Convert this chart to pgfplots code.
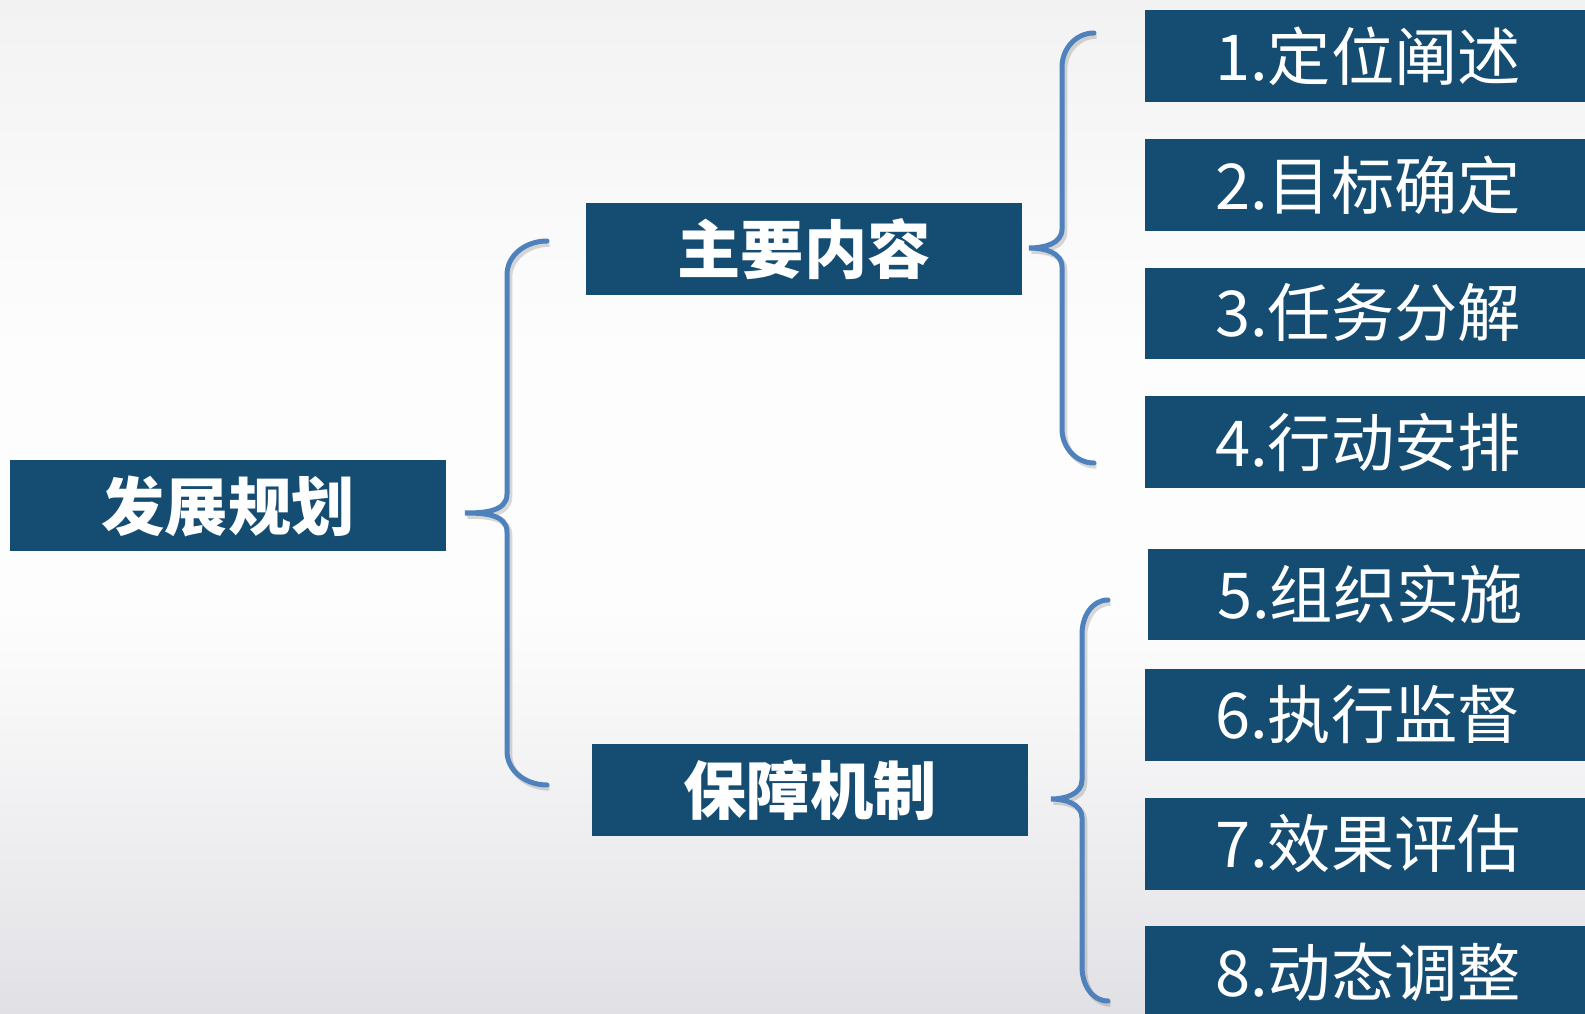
\documentclass[border=0pt]{standalone}
\usepackage{pgfplots}
\pgfplotsset{compat=1.18}
\usepackage{fontspec}
\setmainfont{Noto Sans CJK SC}

\definecolor{boxc}{HTML}{154D72}
\definecolor{brc}{HTML}{4F81BD}
\definecolor{bg0}{HTML}{E1E1E5}
\definecolor{bg1}{HTML}{EDEDF0}
\definecolor{bg2}{HTML}{F7F7F7}
\definecolor{bg3}{HTML}{FDFDFD}
\definecolor{bg4}{HTML}{F9F9F9}
\definecolor{bg5}{HTML}{F2F2F2}
% the path is fitted to the 25bp..75bp part of the shading
\pgfdeclareverticalshading{pagebg}{100bp}{color(0bp)=(bg0); color(25bp)=(bg0); color(33bp)=(bg1);
  color(40bp)=(bg2); color(45bp)=(bg3); color(57.5bp)=(bg3); color(65bp)=(bg4);
  color(75bp)=(bg5); color(100bp)=(bg5)}

% brace: {end x}{vertical x}{top y}{bottom y}{tip x}{tip y}
\newcommand{\bracepath}[6]{%
  (axis cs:#1,#3) to[out=180,in=90] (axis cs:#2,#3+34)
  -- (axis cs:#2,#6-19) to[out=-90,in=0] (axis cs:#5,#6)
  to[out=0,in=90] (axis cs:#2,#6+19)
  -- (axis cs:#2,#4-34) to[out=-90,in=180] (axis cs:#1,#4)}
\newcommand{\curlybrace}[6]{%
  \draw[black!60, opacity=0.25, line width=0.55mm, shift={(0.25mm,-0.3mm)}] \bracepath{#1}{#2}{#3}{#4}{#5}{#6};
  \draw[brc, line width=0.5mm, line cap=round] \bracepath{#1}{#2}{#3}{#4}{#5}{#6};}

\tikzset{lbl/.style={text=white, font=\fontsize{18}{20}\selectfont},
         lblb/.style={text=white, font=\fontsize{18}{20}\selectfont\bfseries}}

\begin{document}
\begin{tikzpicture}
\begin{axis}[
    scale only axis,
    width=15.85cm, height=10.14cm,
    xmin=0, xmax=1585, ymin=0, ymax=1014,
    y dir=reverse,
    axis lines=none,
    clip=true,
  ]
  % background
  \shade[shading=pagebg] (axis cs:0,0) rectangle (axis cs:1585,1014);

  % boxes (x0,y0) -> (x1,y1), pixel units, y downwards
  \addplot[fill=boxc, draw=none, mark=none] coordinates {(10,460)(446,460)(446,551)(10,551)};
  \addplot[fill=boxc, draw=none, mark=none] coordinates {(586,203)(1022,203)(1022,295)(586,295)};
  \addplot[fill=boxc, draw=none, mark=none] coordinates {(592,744)(1028,744)(1028,836)(592,836)};
  \addplot[fill=boxc, draw=none, mark=none] coordinates {(1145,10)(1585,10)(1585,102)(1145,102)};
  \addplot[fill=boxc, draw=none, mark=none] coordinates {(1145,139)(1585,139)(1585,231)(1145,231)};
  \addplot[fill=boxc, draw=none, mark=none] coordinates {(1145,268)(1585,268)(1585,359)(1145,359)};
  \addplot[fill=boxc, draw=none, mark=none] coordinates {(1145,396)(1585,396)(1585,488)(1145,488)};
  \addplot[fill=boxc, draw=none, mark=none] coordinates {(1148,549)(1585,549)(1585,640)(1148,640)};
  \addplot[fill=boxc, draw=none, mark=none] coordinates {(1145,669)(1585,669)(1585,761)(1145,761)};
  \addplot[fill=boxc, draw=none, mark=none] coordinates {(1145,798)(1585,798)(1585,890)(1145,890)};
  \addplot[fill=boxc, draw=none, mark=none] coordinates {(1145,926)(1585,926)(1585,1014)(1145,1014)};

  % braces
  \curlybrace{547}{507}{241}{785}{465}{513}
  \curlybrace{1094}{1062}{33}{463}{1029}{248}
  \curlybrace{1108}{1082}{600}{1001}{1051}{799}

  % labels
  \node[lblb] at (axis cs:228,506) {发展规划};
  \node[lblb] at (axis cs:804,249) {主要内容};
  \node[lblb] at (axis cs:810,790) {保障机制};

  \node[lbl] at (axis cs:1368,56) {1.定位阐述};
  \node[lbl] at (axis cs:1368,185) {2.目标确定};
  \node[lbl] at (axis cs:1368,313) {3.任务分解};
  \node[lbl] at (axis cs:1368,442) {4.行动安排};
  \node[lbl] at (axis cs:1370,594) {5.组织实施};
  \node[lbl] at (axis cs:1368,715) {6.执行监督};
  \node[lbl] at (axis cs:1368,844) {7.效果评估};
  \node[lbl] at (axis cs:1368,972) {8.动态调整};
\end{axis}
\end{tikzpicture}
\end{document}
